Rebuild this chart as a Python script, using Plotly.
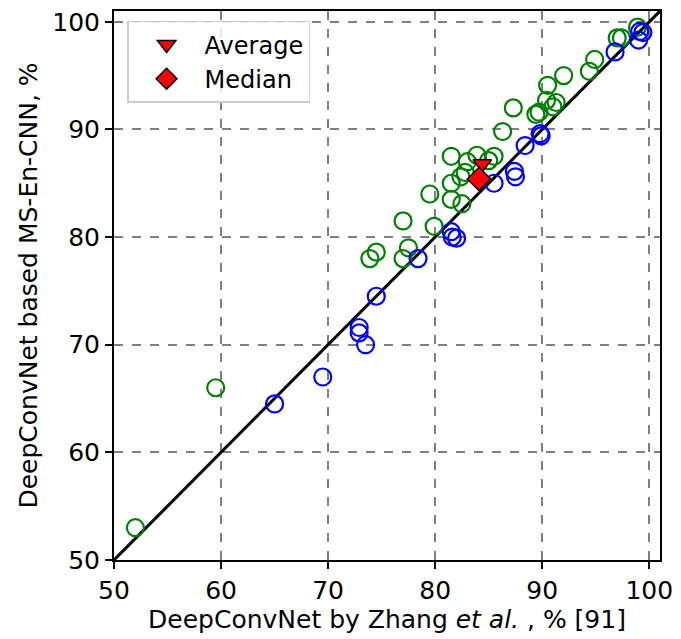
import plotly.graph_objects as go

# Green: MS-En-CNN better
green_x = [52.0, 59.5, 77.0, 79.5, 79.9, 73.9, 74.5, 77.0, 77.5, 81.5, 81.5, 81.5, 82.4, 83.0, 82.8,
           82.5, 83.9, 85.0, 85.5, 86.3, 87.3, 89.4, 89.7, 90.5, 90.4, 91.0, 91.3, 92.0, 94.4, 94.9,
           97.0, 97.4, 98.9]
green_y = [53.0, 66.0, 81.5, 84.0, 81.0, 78.0, 78.6, 78.0, 79.0, 87.5, 85.0, 83.5, 85.6, 87.0, 86.0,
           83.1, 87.6, 87.1, 87.5, 89.8, 92.0, 91.4, 91.6, 94.1, 92.7, 92.1, 92.5, 95.0, 95.4, 96.5,
           98.5, 98.5, 99.5]

# Blue: MS-En-CNN not better
blue_x = [65.0, 69.5, 72.9, 72.9, 73.5, 74.5, 78.4, 81.5, 81.6, 82.0, 85.5, 87.4, 87.5, 88.4, 89.9,
          89.8, 96.8, 99.0, 99.1, 99.4]
blue_y = [64.5, 67.0, 71.6, 71.1, 70.0, 74.5, 78.0, 80.5, 80.0, 79.9, 85.0, 86.1, 85.6, 88.5, 89.4,
          89.6, 97.2, 98.3, 99.1, 99.0]

avg_x, avg_y = [84.4], [86.8]
med_x, med_y = [84.1], [85.4]

diag = [50, 101]
ticks = [50, 60, 70, 80, 90, 100]

fig = go.Figure()
fig.add_trace(go.Scatter(x=diag, y=diag, mode="lines", line=dict(color="black", width=3),
                         showlegend=False, hoverinfo="skip"))
fig.add_trace(go.Scatter(x=green_x, y=green_y, mode="markers", showlegend=False,
                         marker=dict(symbol="circle-open", size=17, color="green", line=dict(width=2.2))))
fig.add_trace(go.Scatter(x=blue_x, y=blue_y, mode="markers", showlegend=False,
                         marker=dict(symbol="circle-open", size=17, color="blue", line=dict(width=2.2))))
fig.add_trace(go.Scatter(x=avg_x, y=avg_y, mode="markers", name="Average",
                         marker=dict(symbol="triangle-down", size=16, color="red",
                                     line=dict(color="black", width=1.5))))
fig.add_trace(go.Scatter(x=med_x, y=med_y, mode="markers", name="Median",
                         marker=dict(symbol="diamond", size=18, color="red",
                                     line=dict(color="black", width=1.5))))

font = "DejaVu Sans"
fs = 25
axis_common = dict(range=[50, 101], tickvals=ticks, showgrid=True, gridcolor="#7f7f7f",
                   griddash="dash", gridwidth=1.5, showline=True, linecolor="black", linewidth=2,
                   mirror=True, ticks="outside", ticklen=7, tickwidth=1.5, tickcolor="black",
                   zeroline=False, tickfont=dict(size=fs, color="black", family=font))

fig.update_layout(
    width=681, height=639,
    margin=dict(l=114, r=15, t=8, b=79),
    plot_bgcolor="white", paper_bgcolor="white",
    font=dict(family=font, color="black"),
    xaxis=dict(**axis_common,
               title=dict(text="DeepConvNet by Zhang <i>et al.</i> , % [91]",
                          font=dict(size=fs, family=font, color="black"), standoff=6)),
    yaxis=dict(**axis_common,
               title=dict(text="DeepConvNet based MS-En-CNN, %",
                          font=dict(size=fs, family=font, color="black"), standoff=8)),
    legend=dict(x=0.024, y=0.982, xanchor="left", yanchor="top",
                bgcolor="rgba(255,255,255,0.8)", bordercolor="#cccccc", borderwidth=1.5,
                font=dict(size=24, family=font, color="black"), itemsizing="trace",
                itemwidth=66, entrywidth=190),
    showlegend=True,
)

fig.write_html("out.html")
